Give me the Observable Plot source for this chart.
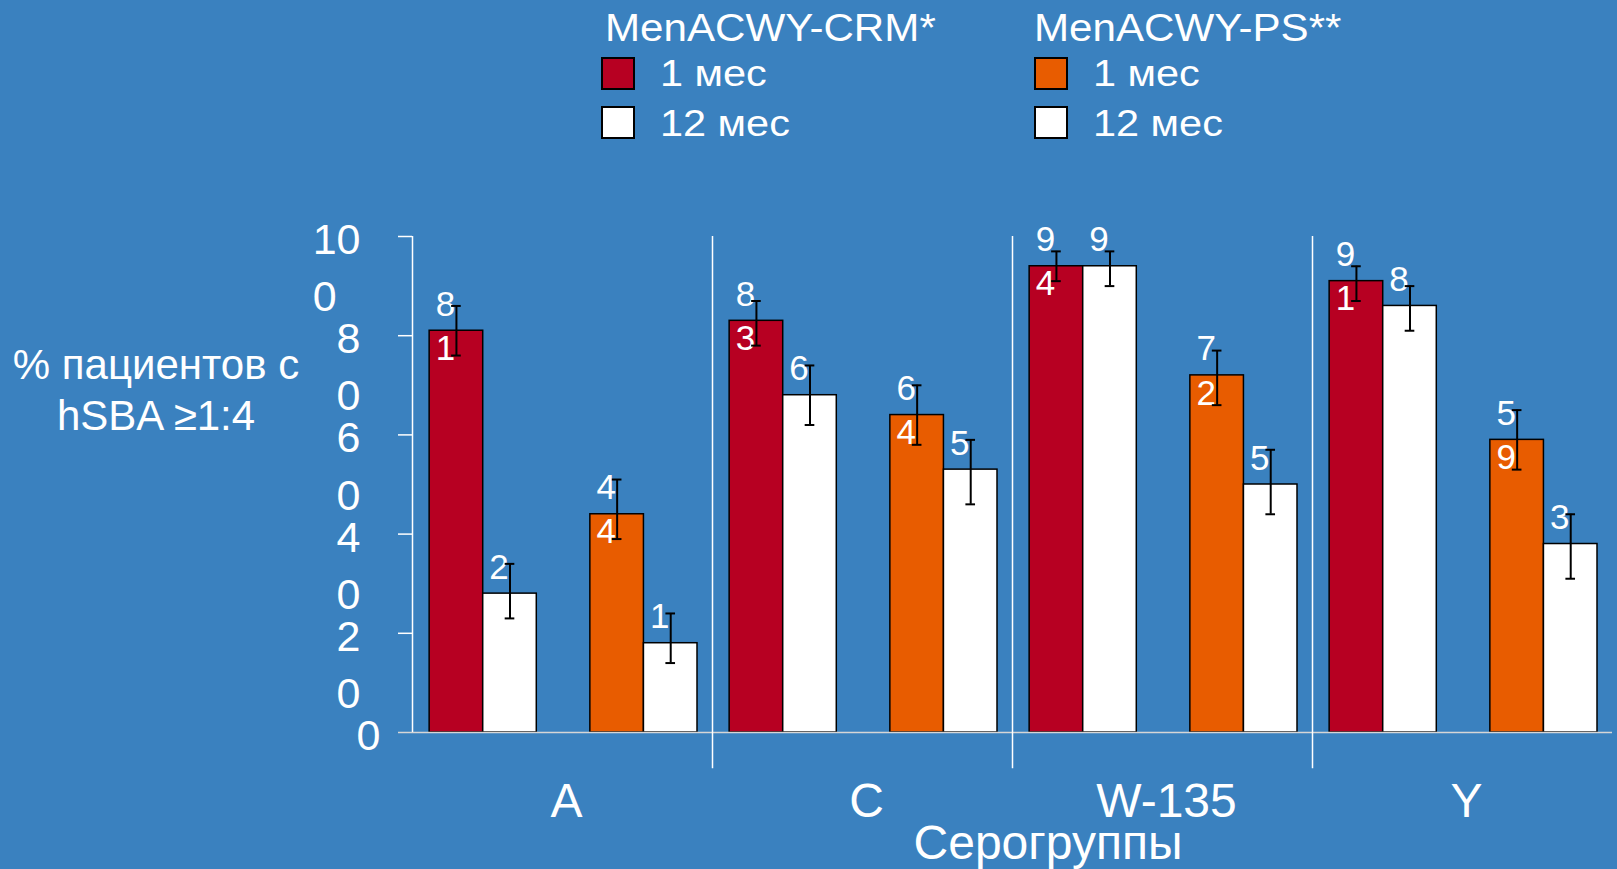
<!DOCTYPE html>
<html>
<head>
<meta charset="utf-8">
<script src="https://cdn.jsdelivr.net/npm/d3@7"></script>
<script src="https://cdn.jsdelivr.net/npm/@observablehq/plot@0.6"></script>
<style>
  html, body { margin: 0; padding: 0; }
  body {
    width: 1617px; height: 869px; overflow: hidden; position: relative;
    background: #3A81BF; color: #fff;
    font-family: "Liberation Sans", Arial, sans-serif;
  }
  #legend { position: relative; height: 170px; }
  .lg-title { position: absolute; font-size: 39px; line-height: 39px; white-space: nowrap;
              transform: scaleX(1.08); transform-origin: 0 0; }
  .lg-text { position: absolute; font-size: 37px; line-height: 37px; white-space: nowrap;
             transform: scaleX(1.12); transform-origin: 0 0; }
  .lg-sw { position: absolute; width: 30px; height: 29px; border: 2px solid #000; }
  #ylabel { position: absolute; left: 0; top: 339px; width: 312px; text-align: center;
            font-size: 42px; line-height: 51px; }
  #xlabel { position: absolute; left: 848px; top: 819px; width: 400px; text-align: center;
            font-size: 48px; line-height: 48px; }
  #chart svg { display: block; }
</style>
</head>
<body>
<div id="legend"></div>
<div id="chart"></div>
<div id="ylabel"></div>
<div id="xlabel"></div>
<script>
// ---- data ----
const serogroups = ["A", "C", "W-135", "Y"];
const vaccines = ["MenACWY-CRM*", "MenACWY-PS**"];
const timepoints = ["1 мес", "12 мес"];
const seriesKeys = ["CRM 1 мес", "CRM 12 мес", "PS 1 мес", "PS 12 мес"];
const seriesColors = ["#B70022", "#FFFFFF", "#E85C00", "#FFFFFF"];

const crm1 = [81, 83, 94, 91];
const crm1Lo = [76, 78, 91, 87];
const crm1Hi = [86, 87, 97, 94];

const crm12 = [28, 68, 94, 86];
const crm12Lo = [23, 62, 90, 81];
const crm12Hi = [34, 74, 97, 90];

const ps1 = [44, 64, 72, 59];
const ps1Lo = [39, 58, 66, 53];
const ps1Hi = [51, 70, 77, 65];

const ps12 = [18, 53, 50, 38];
const ps12Lo = [14, 46, 44, 31];
const ps12Hi = [24, 59, 57, 44];

const yTicks = [0, 20, 40, 60, 80, 100];
const yLabel = ["% пациентов с", "hSBA ≥1:4"];
const xLabel = "Серогруппы";

// ---- build table ----
const slotOrder = [seriesKeys[0], seriesKeys[1], null, seriesKeys[2], seriesKeys[3]];
const seriesValues = [crm1, crm12, ps1, ps12];
const seriesLo = [crm1Lo, crm12Lo, ps1Lo, ps12Lo];
const seriesHi = [crm1Hi, crm12Hi, ps1Hi, ps12Hi];
const rows = [];
serogroups.forEach((g, gi) => {
  seriesKeys.forEach((s, si) => {
    rows.push({
      group: g, series: s, slot: slotOrder.indexOf(s),
      value: seriesValues[si][gi], lo: seriesLo[si][gi], hi: seriesHi[si][gi]
    });
  });
});

const xDomain = [-0.32, 5.28];
const wrap = v => { const s = String(v); return s.length > 1 ? s.slice(0, -1) + "\n" + s.slice(-1) : s; };
const tickFmt = v => v === 100 ? "10\n0\u00a0\u00a0" : wrap(v);

const plot = Plot.plot({
  width: 1617,
  height: 699,
  marginLeft: 412,
  marginRight: 5,
  marginTop: 66,
  marginBottom: 137,
  style: { background: "transparent", color: "white", fontFamily: "Liberation Sans, Arial, sans-serif", overflow: "visible" },
  fx: { domain: serogroups, padding: 0 },
  x: { domain: xDomain, axis: null },
  y: { domain: [0, 100] },
  color: { domain: seriesKeys, range: seriesColors },
  marks: [
    Plot.rectY(rows, { fx: "group", x1: d => d.slot, x2: d => d.slot + 1, y: "value",
      fill: "series", stroke: "black", strokeWidth: 1.5 }),
    Plot.ruleY([0], { stroke: "#d6d6d6", strokeWidth: 1.5 }),
    Plot.ruleX([serogroups[0]], { fx: d => d, x: xDomain[0], y1: 0, y2: 100, stroke: "white", strokeWidth: 1.5 }),
    Plot.ruleX(serogroups.slice(1), { fx: d => d, x: xDomain[0], y1: -7.3, y2: 100, stroke: "white", strokeWidth: 1.5 }),
    Plot.text(rows, { fx: "group", x: d => d.slot + 0.5, y: "value", text: d => wrap(d.value),
      fill: "white", fontSize: 35, lineHeight: 1.26, dx: -11, dy: -7 }),
    Plot.ruleX(rows, { fx: "group", x: d => d.slot + 0.5, y1: "lo", y2: "hi", stroke: "black", strokeWidth: 2 }),
    Plot.ruleY(rows, { fx: "group", y: "lo", x1: d => d.slot + 0.41, x2: d => d.slot + 0.59, stroke: "black", strokeWidth: 2 }),
    Plot.ruleY(rows, { fx: "group", y: "hi", x1: d => d.slot + 0.41, x2: d => d.slot + 0.59, stroke: "black", strokeWidth: 2 }),
    // tick marks only
    Plot.axisY({ ticks: yTicks.slice(1), tickFormat: () => "", tickSize: 14, label: null, stroke: "white", strokeWidth: 1.5 }),
    // tick labels only
    Plot.axisY({ ticks: yTicks.slice(1), tickFormat: tickFmt, tickSize: 0, tickPadding: 52,
      fontSize: 43, lineHeight: 1.33, lineAnchor: "top", dy: -23, label: null }),
    Plot.axisY({ ticks: yTicks.slice(0, 1), tickFormat: () => "", tickSize: 14, label: null, stroke: "#d6d6d6", strokeWidth: 1.5 }),
    Plot.axisY({ ticks: yTicks.slice(0, 1), tickFormat: tickFmt, tickSize: 0, tickPadding: 32,
      fontSize: 43, lineHeight: 1.33, lineAnchor: "top", dy: -23, label: null }),
    Plot.axisFx({ anchor: "bottom", tickSize: 0, tickPadding: 50, fontSize: 48, label: null, dx: 4 })
  ]
});
document.getElementById("chart").appendChild(plot);

// ---- legend ----
const legend = document.getElementById("legend");
const colLeft = [601, 1034];
const titleLeft = [605, 1034];
vaccines.forEach((v, vi) => {
  const t = document.createElement("div");
  t.className = "lg-title";
  t.style.left = titleLeft[vi] + "px";
  t.style.top = "8px";
  t.textContent = v;
  legend.appendChild(t);
  timepoints.forEach((tp, ti) => {
    const sw = document.createElement("div");
    sw.className = "lg-sw";
    sw.style.left = colLeft[vi] + "px";
    sw.style.top = (57 + ti * 49) + "px";
    sw.style.background = seriesColors[vi * 2 + ti];
    legend.appendChild(sw);
    const tx = document.createElement("div");
    tx.className = "lg-text";
    tx.style.left = (colLeft[vi] + 59) + "px";
    tx.style.top = (55 + ti * 50) + "px";
    tx.textContent = tp;
    legend.appendChild(tx);
  });
});
document.getElementById("ylabel").innerHTML = yLabel.join("<br>");
document.getElementById("xlabel").textContent = xLabel;
</script>
</body>
</html>
